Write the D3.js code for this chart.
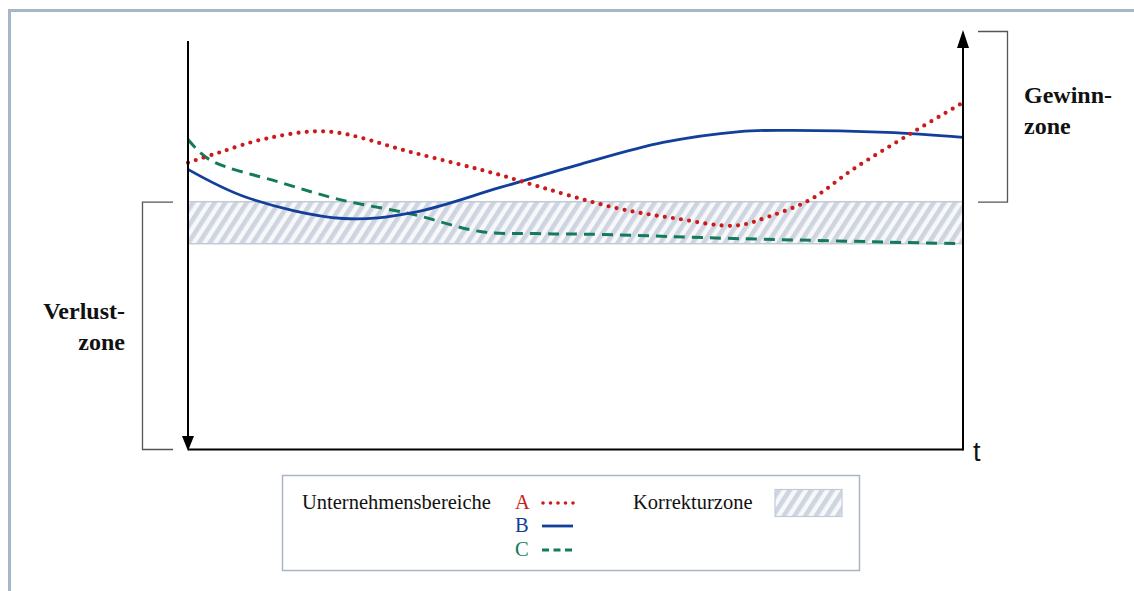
<!DOCTYPE html>
<html>
<head>
<meta charset="utf-8">
<script src="https://cdn.jsdelivr.net/npm/d3@7"></script>
<style>
  html, body { margin: 0; padding: 0; background: #fff; }
  svg { display: block; }
</style>
</head>
<body>
<svg id="chart" width="1134" height="591"></svg>
<script>
// Zeitachse (0 = Beginn, 100 = Ende)
const timeA = [0, 4, 10, 18, 29, 40, 44, 55, 63, 70.6, 75, 80.3, 85.8, 93.5, 100];
const seriesA = [68.3, 70.7, 74, 75.7, 70.7, 65.5, 63.3, 57.6, 55, 53.3, 55.5, 59.5, 66.7, 75.5, 82.6];

const timeB = [0, 7.6, 20, 29, 40.3, 50.6, 61.3, 71.2, 77.3, 90.2, 100];
const seriesB = [66.7, 60, 55, 56.4, 62.4, 67.9, 73.1, 75.7, 76, 75.5, 74.3];

const timeC = [0, 2.8, 11.9, 19.6, 29, 37.7, 45, 53.2, 71.2, 100];
const seriesC = [73.8, 69, 63.6, 59.5, 56, 51.9, 51.4, 51.2, 50.2, 49];

// Korrekturzone (Unter- und Obergrenze)
const correctionZone = [49, 59];

const seriesNames = ["A", "B", "C"];
const seriesColors = ["#cc1a1a", "#123f9a", "#137a5c"];

const svg = d3.select("#chart");

const x = d3.scaleLinear().domain([0, 100]).range([188, 963]);
const y = d3.scaleLinear().domain([0, 100]).range([449.5, 29.5]);

// Rahmen
svg.append("rect")
  .attr("x", 9.5).attr("y", 10.5)
  .attr("width", 1300).attr("height", 700)
  .attr("fill", "none")
  .attr("stroke", "#a7b5c8").attr("stroke-width", 3);

const defs = svg.append("defs");
const hatch = defs.append("pattern")
  .attr("id", "hatch")
  .attr("patternUnits", "userSpaceOnUse")
  .attr("width", 9).attr("height", 9)
  .attr("patternTransform", "rotate(33)");
hatch.append("rect").attr("width", 9).attr("height", 9).attr("fill", "#f7f8fa");
hatch.append("rect").attr("width", 4.6).attr("height", 9).attr("fill", "#cfd5e0");

// Korrekturzone
svg.append("rect")
  .attr("x", x(0)).attr("y", y(correctionZone[1]))
  .attr("width", x(100) - x(0))
  .attr("height", y(correctionZone[0]) - y(correctionZone[1]))
  .attr("fill", "url(#hatch)")
  .attr("stroke", "#c3cad6").attr("stroke-width", 1.5);

// Verläufe der Unternehmensbereiche
const line = d3.line()
  .x(d => x(d[0]))
  .y(d => y(d[1]))
  .curve(d3.curveCatmullRom.alpha(0.5));

const dataA = timeA.map((t, i) => [t, seriesA[i]]);
const dataB = timeB.map((t, i) => [t, seriesB[i]]);
const dataC = timeC.map((t, i) => [t, seriesC[i]]);

svg.append("path").datum(dataC)
  .attr("d", line).attr("fill", "none")
  .attr("stroke", seriesColors[2]).attr("stroke-width", 3)
  .attr("stroke-dasharray", "11,7");

svg.append("path").datum(dataB)
  .attr("d", line).attr("fill", "none")
  .attr("stroke", seriesColors[1]).attr("stroke-width", 2.8);

svg.append("path").datum(dataA)
  .attr("d", line).attr("fill", "none")
  .attr("stroke", seriesColors[0]).attr("stroke-width", 4.2)
  .attr("stroke-linecap", "round")
  .attr("stroke-dasharray", "0,8.2");

// Achsen
const axisColor = "#000";
svg.append("line")
  .attr("x1", x(0)).attr("x2", x(0))
  .attr("y1", 41).attr("y2", 440)
  .attr("stroke", axisColor).attr("stroke-width", 2);
svg.append("path")
  .attr("d", `M${x(0) - 6},${436} L${x(0) + 6},${436} L${x(0)},${451} Z`)
  .attr("fill", axisColor);

svg.append("line")
  .attr("x1", x(0)).attr("x2", x(100))
  .attr("y1", y(0)).attr("y2", y(0))
  .attr("stroke", axisColor).attr("stroke-width", 2);

svg.append("line")
  .attr("x1", x(100)).attr("x2", x(100))
  .attr("y1", y(0) + 1).attr("y2", 45)
  .attr("stroke", axisColor).attr("stroke-width", 2);
svg.append("path")
  .attr("d", `M${x(100) - 6},${48} L${x(100) + 6},${48} L${x(100)},${30} Z`)
  .attr("fill", axisColor);

svg.append("text")
  .attr("x", 973).attr("y", 461)
  .attr("font-family", "Liberation Sans, Arial, sans-serif")
  .attr("font-size", 27)
  .attr("fill", "#111")
  .text("t");

// Klammern für Gewinn- und Verlustzone
const bracketColor = "#555";
svg.append("path")
  .attr("d", `M173,${y(correctionZone[1]) + 0.5} H142.5 V${y(0)} H173`)
  .attr("fill", "none").attr("stroke", bracketColor).attr("stroke-width", 1.3);
svg.append("path")
  .attr("d", `M978,31.5 H1007.5 V${y(correctionZone[1]) + 0.5} H978`)
  .attr("fill", "none").attr("stroke", bracketColor).attr("stroke-width", 1.3);

const zoneFont = "'Liberation Serif', 'Times New Roman', serif";
const gewinn = svg.append("text")
  .attr("font-family", zoneFont).attr("font-weight", "bold")
  .attr("font-size", 24).attr("fill", "#111");
gewinn.append("tspan").attr("x", 1024).attr("y", 103).text("Gewinn-");
gewinn.append("tspan").attr("x", 1024).attr("y", 134).text("zone");

const verlust = svg.append("text")
  .attr("font-family", zoneFont).attr("font-weight", "bold")
  .attr("font-size", 24).attr("fill", "#111")
  .attr("text-anchor", "end");
verlust.append("tspan").attr("x", 125).attr("y", 319).text("Verlust-");
verlust.append("tspan").attr("x", 125).attr("y", 350).text("zone");

// Legende
const legend = svg.append("g");
legend.append("rect")
  .attr("x", 282.5).attr("y", 475.5)
  .attr("width", 577).attr("height", 95)
  .attr("fill", "#fff")
  .attr("stroke", "#a9b5c6").attr("stroke-width", 1.5);

const legendFont = "'Liberation Serif', 'Times New Roman', serif";
legend.append("text")
  .attr("x", 302).attr("y", 509)
  .attr("font-family", legendFont).attr("font-size", 20.5).attr("fill", "#111")
  .text("Unternehmensbereiche");

const legendDash = ["0,7.5", null, "7,4.5"];
const legendWidth = [3.6, 2.8, 2.8];
const legendBase = [509, 532, 556];
seriesNames.forEach((name, i) => {
  const yy = legendBase[i];
  legend.append("text")
    .attr("x", 515).attr("y", yy)
    .attr("font-family", legendFont).attr("font-size", 20.5)
    .attr("fill", seriesColors[i])
    .text(name);
  const ln = legend.append("line")
    .attr("x1", i === 0 ? 543 : 542).attr("x2", i === 0 ? 574 : 573)
    .attr("y1", yy - 6).attr("y2", yy - 6)
    .attr("stroke", seriesColors[i]).attr("stroke-width", legendWidth[i]);
  if (legendDash[i]) ln.attr("stroke-dasharray", legendDash[i]);
  if (i === 0) ln.attr("stroke-linecap", "round");
});

legend.append("text")
  .attr("x", 633).attr("y", 509)
  .attr("font-family", legendFont).attr("font-size", 20.5).attr("fill", "#111")
  .text("Korrekturzone");
legend.append("rect")
  .attr("x", 775).attr("y", 489.5)
  .attr("width", 67).attr("height", 27)
  .attr("fill", "url(#hatch)")
  .attr("stroke", "#c3cad6").attr("stroke-width", 1.2);
</script>
</body>
</html>
